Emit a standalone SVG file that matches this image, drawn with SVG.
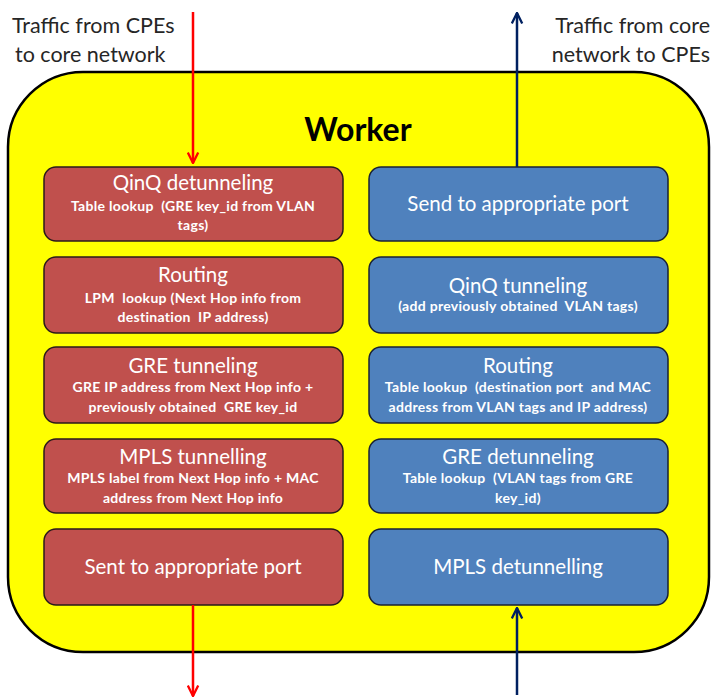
<svg xmlns="http://www.w3.org/2000/svg" width="714" height="700" viewBox="0 0 714 700">
<style>
  .lbl { font-family: Lato, "Liberation Sans", sans-serif; font-size: 21.5px; fill: #262626; }
  .ttl { font-family: Lato, "Liberation Sans", sans-serif; font-size: 20.5px; fill: #fff; text-anchor: middle; }
  .sub { font-family: Lato, "Liberation Sans", sans-serif; font-size: 14px; font-weight: bold; letter-spacing: 0.3px; white-space: pre; fill: #fff; text-anchor: middle; }
  .red { fill: #C0504D; stroke: #2a1a1a; stroke-width: 1.5; }
  .blue { fill: #4F81BD; stroke: #1a2233; stroke-width: 1.5; }
</style>
<defs>
  <marker id="ahR" viewBox="0 0 10 10" refX="9" refY="5" markerWidth="13" markerHeight="13" orient="auto" markerUnits="userSpaceOnUse">
    <path d="M1,1 L9,5 L1,9" fill="none" stroke="#FF0000" stroke-width="1.8"/>
  </marker>
  <marker id="ahB" viewBox="0 0 10 10" refX="9" refY="5" markerWidth="13" markerHeight="13" orient="auto" markerUnits="userSpaceOnUse">
    <path d="M1,1 L9,5 L1,9" fill="none" stroke="#002060" stroke-width="1.8"/>
  </marker>
</defs>
<rect width="714" height="700" fill="#fff"/>
<g id="worker">
  <rect x="8" y="72" width="701" height="580" rx="75" ry="75" fill="#FFFF00" stroke="#000" stroke-width="2.5"/>
  <text x="358" y="141" font-family="Lato, 'Liberation Sans', sans-serif" font-size="32" font-weight="bold" text-anchor="middle" fill="#000">Worker</text>
</g>
<g id="labels">
  <text class="lbl" x="12" y="33">Traffic from CPEs</text>
  <text class="lbl" x="15" y="62">to core network</text>
  <text class="lbl" x="710" y="33" text-anchor="end">Traffic from core</text>
  <text class="lbl" x="710" y="62" text-anchor="end">network to CPEs</text>
</g>
<g id="r1"><rect class="red" x="44" y="167" width="299" height="74" rx="12"/>
  <text class="ttl" x="193" y="190">QinQ detunneling</text>
  <text class="sub" x="193" y="211">Table lookup  (GRE key_id from VLAN</text>
  <text class="sub" x="193" y="230">tags)</text></g>
<g id="r2"><rect class="red" x="44" y="257" width="299" height="76" rx="12"/>
  <text class="ttl" x="193" y="282">Routing</text>
  <text class="sub" x="193" y="303">LPM  lookup (Next Hop info from</text>
  <text class="sub" x="193" y="322">destination  IP address)</text></g>
<g id="r3"><rect class="red" x="44" y="347" width="299" height="76" rx="12"/>
  <text class="ttl" x="193" y="373">GRE tunneling</text>
  <text class="sub" x="193" y="392">GRE IP address from Next Hop info +</text>
  <text class="sub" x="193" y="412">previously obtained  GRE key_id</text></g>
<g id="r4"><rect class="red" x="44" y="439" width="299" height="74" rx="12"/>
  <text class="ttl" x="193" y="464">MPLS tunnelling</text>
  <text class="sub" x="193" y="483">MPLS label from Next Hop info + MAC</text>
  <text class="sub" x="193" y="503">address from Next Hop info</text></g>
<g id="r5"><rect class="red" x="44" y="529" width="299" height="76" rx="12"/>
  <text class="ttl" x="193" y="574">Sent to appropriate port</text></g>
<g id="b1"><rect class="blue" x="369" y="167" width="299" height="74" rx="12"/>
  <text class="ttl" x="518" y="211">Send to appropriate port</text></g>
<g id="b2"><rect class="blue" x="369" y="257" width="299" height="76" rx="12"/>
  <text class="ttl" x="518" y="293">QinQ tunneling</text>
  <text class="sub" x="518" y="311">(add previously obtained  VLAN tags)</text></g>
<g id="b3"><rect class="blue" x="369" y="347" width="299" height="76" rx="12"/>
  <text class="ttl" x="518" y="373">Routing</text>
  <text class="sub" x="518" y="392">Table lookup  (destination port  and MAC</text>
  <text class="sub" x="518" y="412">address from VLAN tags and IP address)</text></g>
<g id="b4"><rect class="blue" x="369" y="439" width="299" height="74" rx="12"/>
  <text class="ttl" x="518" y="464">GRE detunneling</text>
  <text class="sub" x="518" y="483">Table lookup  (VLAN tags from GRE</text>
  <text class="sub" x="518" y="503">key_id)</text></g>
<g id="b5"><rect class="blue" x="369" y="529" width="299" height="76" rx="12"/>
  <text class="ttl" x="518" y="574">MPLS detunnelling</text></g>
<g id="connectors" fill="none" stroke-width="2.5">
  <line x1="193" y1="12" x2="193" y2="163" stroke="#FF0000" marker-end="url(#ahR)"/>
  <line x1="193" y1="605" x2="193" y2="696" stroke="#FF0000" marker-end="url(#ahR)"/>
  <line x1="517" y1="167" x2="517" y2="13" stroke="#002060" marker-end="url(#ahB)"/>
  <line x1="517" y1="695" x2="517" y2="608" stroke="#002060" marker-end="url(#ahB)"/>
</g>
</svg>
